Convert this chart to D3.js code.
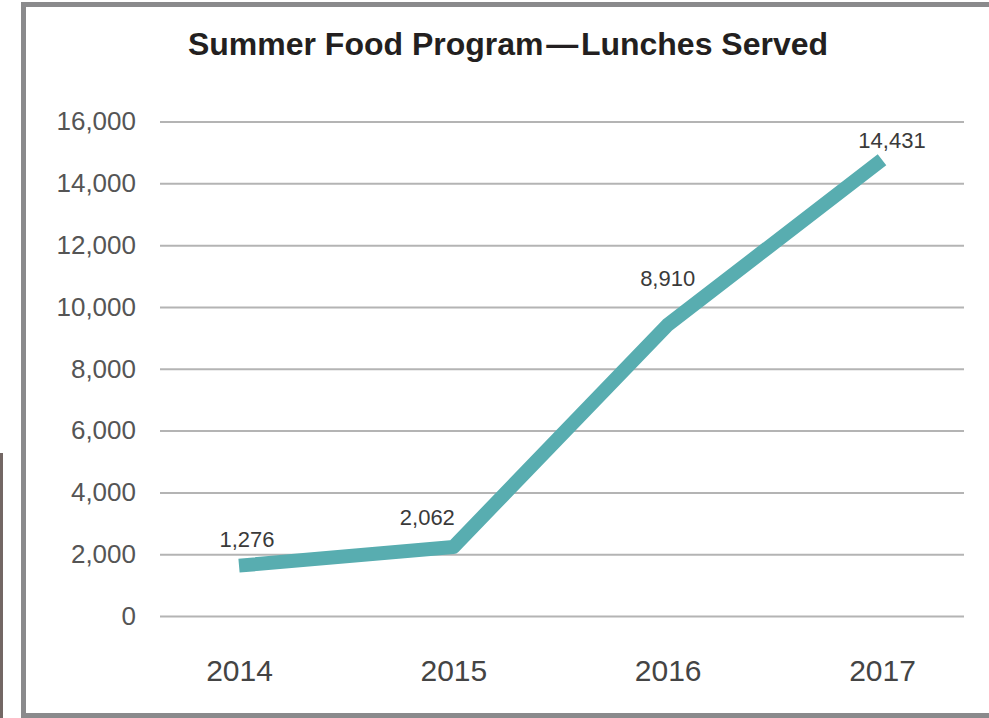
<!DOCTYPE html>
<html>
<head>
<meta charset="utf-8">
<script src="https://cdn.jsdelivr.net/npm/d3@7"></script>
<style>
  body { margin: 0; background: #fff; }
  svg { display: block; font-family: "Liberation Sans", Arial, sans-serif; }
</style>
</head>
<body>
<div id="chart"></div>
<script>
// years on the x axis
const years = ["2014", "2015", "2016", "2017"];
// lunches served, as printed on the labels
const lunches = [1276, 2062, 8910, 14431];
// where the line sits in the picture (the printed chart draws it a bit above the labelled values)
const linePosition = [1630, 2230, 9420, 14760];
// y axis ticks
const yTicks = [0, 2000, 4000, 6000, 8000, 10000, 12000, 14000, 16000];
const title = "Summer Food Program\u200A\u2014\u200ALunches Served";

const width = 989, height = 718;

const svg = d3.select("#chart").append("svg")
    .attr("width", width)
    .attr("height", height);

// dark strip at the far left edge
svg.append("rect")
    .attr("x", 0).attr("y", 453)
    .attr("width", 3).attr("height", height - 453)
    .attr("fill", "#736764");

// grey frame
svg.append("rect")
    .attr("x", 23.5).attr("y", 4.5)
    .attr("width", 990).attr("height", 711)
    .attr("fill", "none")
    .attr("stroke", "#8a8a8c")
    .attr("stroke-width", 5);

svg.append("text")
    .attr("x", 508).attr("y", 55)
    .attr("text-anchor", "middle")
    .attr("font-size", 32)
    .attr("font-weight", "bold")
    .attr("fill", "#231f20")
    .text(title);

const x = d3.scalePoint()
    .domain(years)
    .range([239, 882]);

const y = d3.scaleLinear()
    .domain([0, 16000])
    .range([616, 121.5]);

// gridlines + y labels via axis
const yAxis = d3.axisLeft(y)
    .tickValues(yTicks)
    .tickSize(-(964 - 160))
    .tickPadding(24)
    .tickFormat(d3.format(","));

const gy = svg.append("g")
    .attr("transform", "translate(160,0)")
    .call(yAxis);
gy.select(".domain").remove();
gy.selectAll(".tick line")
    .attr("stroke", "#b4b4b4")
    .attr("stroke-width", 2);
gy.selectAll(".tick text")
    .attr("font-size", 26)
    .attr("fill", "#555")
    .attr("font-family", "Liberation Sans, Arial, sans-serif");

// x labels
const xAxis = d3.axisBottom(x).tickSize(0).tickPadding(0);
const gx = svg.append("g")
    .attr("transform", "translate(0,660)")
    .call(xAxis);
gx.select(".domain").remove();
gx.selectAll(".tick text")
    .attr("font-size", 30)
    .attr("fill", "#444")
    .attr("font-family", "Liberation Sans, Arial, sans-serif");

// line
const line = d3.line()
    .x((d, i) => x(years[i]))
    .y(d => y(d));

svg.append("path")
    .datum(linePosition)
    .attr("d", line)
    .attr("fill", "none")
    .attr("stroke", "#58adb0")
    .attr("stroke-width", 14)
    .attr("stroke-linejoin", "round")
    .attr("stroke-linecap", "butt");

// value labels
const labelOffset = [{dx: 8, dy: -19}, {dx: -26, dy: -22}, {dx: 0, dy: -39}, {dx: 10, dy: -12}];
svg.append("g").selectAll("text")
    .data(lunches)
    .join("text")
    .attr("x", (d, i) => x(years[i]) + labelOffset[i].dx)
    .attr("y", (d, i) => y(linePosition[i]) + labelOffset[i].dy)
    .attr("text-anchor", "middle")
    .attr("font-size", 22)
    .attr("fill", "#3a3a3a")
    .text(d => d3.format(",")(d));
</script>
</body>
</html>
